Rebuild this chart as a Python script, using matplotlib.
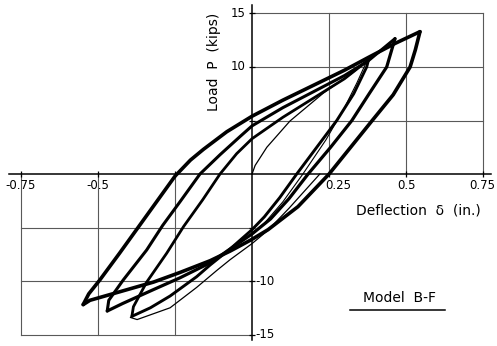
import matplotlib
matplotlib.use("Agg")
import matplotlib.pyplot as plt

# hysteresis loops: deflection (in.) and load (kips)
# loop 3 = largest amplitude, loop 1 = smallest
up3_d = [-0.548, -0.53, -0.494, -0.43, -0.37, -0.31, -0.25, -0.2, -0.158, -0.082, 0.0, 0.10, 0.20, 0.30, 0.378, 0.464, 0.545]
up3_p = [-12.2, -11.2, -9.9, -7.4, -5.0, -2.6, -0.2, 1.3, 2.3, 3.95, 5.4, 6.9, 8.3, 9.7, 10.9, 12.2, 13.3]
dn3_d = [0.545, 0.53, 0.513, 0.458, 0.39, 0.32, 0.25, 0.149, 0.052, 0.0, -0.071, -0.136, -0.234, -0.32, -0.429, -0.526, -0.548]
dn3_p = [13.3, 11.6, 10.0, 7.4, 5.0, 2.5, 0.0, -3.05, -5.2, -6.1, -7.2, -8.1, -9.2, -10.1, -11.0, -11.8, -12.2]

up2_d = [-0.47, -0.465, -0.418, -0.342, -0.29, -0.234, -0.169, -0.104, -0.039, 0.0, 0.10, 0.20, 0.30, 0.378, 0.464]
up2_p = [-12.8, -11.8, -9.9, -7.1, -4.8, -2.6, 0.0, 1.8, 3.5, 4.5, 6.2, 7.7, 9.2, 10.6, 12.65]
dn2_d = [0.464, 0.437, 0.38, 0.324, 0.255, 0.182, 0.12, 0.06, 0.0, -0.071, -0.136, -0.234, -0.32, -0.42, -0.47]
dn2_p = [12.65, 10.0, 7.5, 5.0, 2.5, 0.0, -2.3, -4.2, -5.6, -7.0, -8.3, -9.7, -10.8, -12.1, -12.8]

up1_d = [-0.39, -0.385, -0.342, -0.277, -0.222, -0.16, -0.104, -0.05, 0.0, 0.10, 0.20, 0.30, 0.378]
up1_p = [-13.3, -12.4, -10.1, -7.4, -4.9, -2.4, 0.0, 1.9, 3.3, 5.3, 7.1, 8.9, 10.66]
dn1_d = [0.378, 0.372, 0.33, 0.275, 0.21, 0.145, 0.09, 0.04, 0.0, -0.071, -0.136, -0.18, -0.266, -0.33, -0.39]
dn1_p = [10.66, 10.0, 7.5, 5.0, 2.5, 0.0, -2.2, -4.0, -5.2, -7.0, -8.5, -9.6, -11.4, -12.5, -13.3]

# thin repeat-cycle traces
rep1_d = [0.37, 0.34, 0.30, 0.24, 0.165, 0.10, 0.04, 0.0]
rep1_p = [10.4, 8.5, 6.2, 3.2, 0.0, -2.6, -4.6, -5.5]
rep_d = [0.22, 0.12, 0.05, 0.0, -0.071, -0.114, -0.18, -0.266, -0.373, -0.395]
rep_p = [0.0, -3.2, -5.3, -6.5, -8.0, -9.0, -10.6, -12.5, -13.6, -13.4]

# first (virgin) loading curve
virgin_d = [0.0, 0.01, 0.048, 0.123, 0.231, 0.328, 0.378]
virgin_p = [0.0, 0.8, 2.5, 4.95, 7.55, 9.5, 10.66]

xtick_vals = [-0.75, -0.5, -0.25, 0.25, 0.5, 0.75]
ytick_vals = [-15, -10, -5, 5, 10, 15]

fig = plt.figure(figsize=(4.97, 3.46), dpi=100)
ax = fig.add_axes([0, 0, 1, 1])
ax.set_xlim(-0.818, 0.795)
ax.set_ylim(-16.07, 16.26)

# grid only in the 1st and 3rd quadrants, like the original sheet
gc = "0.35"
for v in [5, 10, 15]:
    ax.plot([0, 0.75], [v, v], color=gc, lw=0.8, zorder=1)
for v in [0.25, 0.5, 0.75]:
    ax.plot([v, v], [0, 15], color=gc, lw=0.8, zorder=1)
for v in [-5, -10, -15]:
    ax.plot([-0.75, 0], [v, v], color=gc, lw=0.8, zorder=1)
for v in [-0.25, -0.5, -0.75]:
    ax.plot([v, v], [-15, 0], color=gc, lw=0.8, zorder=1)

# axes through origin
for s in ["top", "right"]:
    ax.spines[s].set_visible(False)
ax.spines["left"].set_position(("data", 0))
ax.spines["bottom"].set_position(("data", 0))
ax.spines["left"].set_bounds(-15.5, 15.8)
ax.spines["bottom"].set_bounds(-0.79, 0.775)
ax.spines["left"].set_linewidth(1.1)
ax.spines["bottom"].set_linewidth(1.1)
ax.set_xticks(xtick_vals)
ax.set_yticks(ytick_vals)
ax.set_xticklabels([])
ax.set_yticklabels([])
ax.tick_params(direction="inout", length=5, width=0.9, color="black")

kw = dict(color="black", solid_capstyle="round", solid_joinstyle="round", zorder=3)
ax.plot(virgin_d, virgin_p, lw=0.9, **kw)
ax.plot(rep_d, rep_p, lw=0.9, **kw)
ax.plot(rep1_d, rep1_p, lw=0.8, **kw)
ax.plot(up1_d, up1_p, lw=2.0, **kw)
ax.plot(dn1_d, dn1_p, lw=2.1, **kw)
ax.plot(up2_d, up2_p, lw=2.2, **kw)
ax.plot(dn2_d, dn2_p, lw=2.3, **kw)
ax.plot(up3_d, up3_p, lw=2.6, **kw)
ax.plot(dn3_d, dn3_p, lw=2.6, **kw)

fs = 8.5
ax.text(-0.75, -0.5, "-0.75", ha="center", va="top", fontsize=fs)
ax.text(-0.5, -0.5, "-0.5", ha="center", va="top", fontsize=fs)
ax.text(0.237, -0.5, "0.25", ha="left", va="top", fontsize=fs)
ax.text(0.5, -0.5, "0.5", ha="center", va="top", fontsize=fs)
ax.text(0.79, -0.5, "0.75", ha="right", va="top", fontsize=fs)
ax.text(-0.02, 15, "15", ha="right", va="center", fontsize=fs)
ax.text(-0.02, 10, "10", ha="right", va="center", fontsize=fs)
ax.text(0.01, -10, "-10", ha="left", va="center", fontsize=fs)
ax.text(0.01, -15, "-15", ha="left", va="center", fontsize=fs)

ax.text(-0.123, 10.5, "Load  P  (kips)", rotation=90, ha="center", va="center", fontsize=10)
ax.text(0.54, -3.4, "Deflection  δ  (in.)", ha="center", va="center", fontsize=10)
ax.text(0.48, -11.6, "Model  B-F", ha="center", va="center", fontsize=10)
ax.plot([0.318, 0.625], [-12.75, -12.75], color="black", lw=1.1)

fig.savefig("out.png", dpi=100)
